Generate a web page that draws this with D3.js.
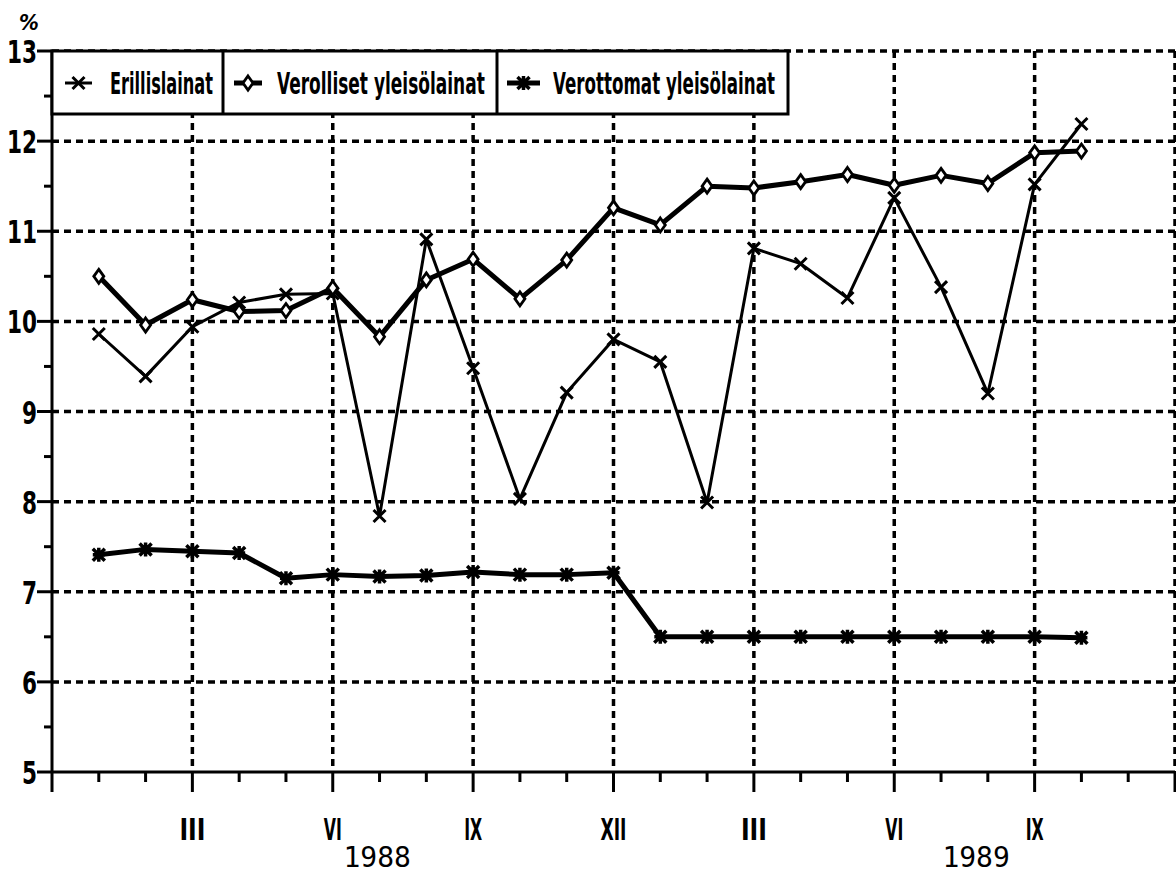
<!DOCTYPE html>
<html>
<head>
<meta charset="utf-8">
<script src="https://cdn.jsdelivr.net/npm/d3@7"></script>
<style>
  body { margin: 0; background: #fff; }
  svg { display: block; }
  .lbl { font-family: "Liberation Sans Narrow", "DejaVu Sans Condensed", "Liberation Sans", sans-serif; font-weight: bold; fill: #000; }
  .year { font-family: "DejaVu Sans Mono", "Liberation Mono", monospace; fill: #000; }
</style>
</head>
<body>
<div id="chart"></div>
<script>
// kuukaudet 1 = I/1988 ... 22 = X/1989
const months = [1, 2, 3, 4, 5, 6, 7, 8, 9, 10, 11, 12, 13, 14, 15, 16, 17, 18, 19, 20, 21, 22];
const erillislainat = [9.86, 9.39, 9.94, 10.21, 10.30, 10.31, 7.84, 10.91, 9.48, 8.03, 9.21, 9.80,
                       9.55, 7.99, 10.81, 10.64, 10.26, 11.37, 10.38, 9.20, 11.52, 12.19];
const verolliset = [10.50, 9.96, 10.24, 10.11, 10.12, 10.37, 9.83, 10.46, 10.69, 10.25, 10.68, 11.26,
                    11.07, 11.50, 11.48, 11.55, 11.63, 11.51, 11.62, 11.53, 11.87, 11.89];
const verottomat = [7.41, 7.47, 7.45, 7.43, 7.15, 7.19, 7.17, 7.18, 7.22, 7.19, 7.19, 7.21,
                    6.50, 6.50, 6.50, 6.50, 6.50, 6.50, 6.50, 6.50, 6.50, 6.49];
const seriesNames = ["Erillislainat", "Verolliset yleisölainat", "Verottomat yleisölainat"];
const quarterMonths = [3, 6, 9, 12, 15, 18, 21, 24];
const quarterLabels = ["III", "VI", "IX", "XII", "III", "VI", "IX", ""];
const yearLabels = [{ text: "1988", m: 6.95 }, { text: "1989", m: 19.75 }];
const yTicks = [5, 6, 7, 8, 9, 10, 11, 12, 13];

const width = 1176, height = 876;
const svg = d3.select("#chart").append("svg")
    .attr("width", width)
    .attr("height", height);

const x = d3.scaleLinear().domain([0, 24]).range([52, 1175]);
const y = d3.scaleLinear().domain([5, 13]).range([772, 51]);

// ruudukko
const grid = svg.append("g").attr("stroke", "#000").attr("stroke-width", 3.5)
    .attr("stroke-dasharray", "7,5").attr("fill", "none");
grid.selectAll(".hg").data(yTicks.filter(d => d > 5)).enter()
    .append("line")
    .attr("x1", x(0)).attr("x2", x(24))
    .attr("y1", d => y(d)).attr("y2", d => y(d));
grid.selectAll(".vg").data(quarterMonths).enter()
    .append("line")
    .attr("x1", d => x(d)).attr("x2", d => x(d))
    .attr("y1", y(13)).attr("y2", y(5));

// akselit
const axes = svg.append("g").attr("stroke", "#000").attr("stroke-width", 3);
axes.append("line").attr("x1", x(0)).attr("x2", x(0)).attr("y1", y(13)).attr("y2", y(5) + 20);
axes.append("line").attr("x1", x(0)).attr("x2", x(24)).attr("y1", y(5)).attr("y2", y(5));

// y-akselin merkit
axes.selectAll(".ymaj").data(yTicks).enter()
    .append("line")
    .attr("x1", x(0) - 15).attr("x2", x(0))
    .attr("y1", d => y(d)).attr("y2", d => y(d));
axes.selectAll(".ymin").data(d3.range(5.5, 13, 1)).enter()
    .append("line")
    .attr("x1", x(0) - 8).attr("x2", x(0))
    .attr("y1", d => y(d)).attr("y2", d => y(d));

// x-akselin merkit
axes.selectAll(".xt").data(d3.range(1, 25)).enter()
    .append("line")
    .attr("x1", d => x(d)).attr("x2", d => x(d))
    .attr("y1", y(5))
    .attr("y2", d => y(5) + (d % 3 === 0 ? 20 : 10));

svg.selectAll(".ylab").data(yTicks).enter()
    .append("text")
    .attr("class", "lbl")
    .attr("x", 37).attr("y", d => y(d) + 12)
    .attr("text-anchor", "end")
    .attr("font-size", 32)
    .attr("textLength", d => String(d).length * 15)
    .attr("lengthAdjust", "spacingAndGlyphs")
    .text(d => d);

svg.append("text").attr("class", "lbl")
    .attr("x", 19).attr("y", 30)
    .attr("font-size", 22)
    .attr("font-style", "italic")
    .text("%");

svg.selectAll(".xlab").data(quarterMonths).enter()
    .append("text")
    .attr("class", "lbl")
    .attr("x", d => x(d)).attr("y", 840)
    .attr("text-anchor", "middle")
    .attr("font-size", 31)
    .attr("textLength", (d, i) => quarterLabels[i].length * 8 + 2)
    .attr("lengthAdjust", "spacingAndGlyphs")
    .text((d, i) => quarterLabels[i]);

svg.selectAll(".year").data(yearLabels).enter()
    .append("text")
    .attr("class", "year")
    .attr("x", d => x(d.m)).attr("y", 867)
    .attr("text-anchor", "middle")
    .attr("font-size", 28)
    .text(d => d.text);

// merkit
function markX(g, s) {
    g.append("path").attr("d", `M${-s},${-s}L${s},${s}M${-s},${s}L${s},${-s}`)
        .attr("stroke", "#000").attr("stroke-width", 3).attr("fill", "none");
}
function markDiamond(g) {
    g.append("path").attr("d", "M0,-7L5,0L0,7L-5,0Z")
        .attr("stroke", "#000").attr("stroke-width", 2.8).attr("fill", "#fff");
}
function markStar(g) {
    g.append("path").attr("d", "M-6,-6L6,6M-6,6L6,-6M-6,0L6,0M0,-7L0,7")
        .attr("stroke", "#000").attr("stroke-width", 3.5).attr("fill", "none");
}

const series = [
    { values: erillislainat, width: 3, mark: g => markX(g, 6) },
    { values: verolliset, width: 5, mark: markDiamond },
    { values: verottomat, width: 5, mark: markStar }
];

const line = d3.line().x(d => x(d[0])).y(d => y(d[1]));

series.forEach(s => {
    const pts = months.map((m, i) => [m, s.values[i]]);
    svg.append("path")
        .datum(pts)
        .attr("d", line)
        .attr("fill", "none")
        .attr("stroke", "#000")
        .attr("stroke-width", s.width)
        .attr("stroke-linejoin", "round");
    svg.append("g").selectAll("g").data(pts).enter()
        .append("g")
        .attr("transform", d => `translate(${x(d[0])},${y(d[1])})`)
        .each(function () { s.mark(d3.select(this)); });
});

// selite
const legendCells = [
    { x0: 52, x1: 223, lx0: 65, lx1: 92, tx: 110, tw: 103 },
    { x0: 223, x1: 497, lx0: 234, lx1: 262, tx: 277, tw: 208 },
    { x0: 497, x1: 788, lx0: 507, lx1: 540, tx: 553, tw: 222 }
];
const lg = svg.append("g");
lg.append("rect")
    .attr("x", 52).attr("y", 51).attr("width", 788 - 52).attr("height", 114 - 51)
    .attr("fill", "#fff").attr("stroke", "#000").attr("stroke-width", 3);
legendCells.forEach((c, i) => {
    if (i > 0) {
        lg.append("line").attr("x1", c.x0).attr("x2", c.x0).attr("y1", 51).attr("y2", 114)
            .attr("stroke", "#000").attr("stroke-width", 3);
    }
    lg.append("line").attr("x1", c.lx0).attr("x2", c.lx1).attr("y1", 83).attr("y2", 83)
        .attr("stroke", "#000").attr("stroke-width", i === 0 ? 3 : 5);
    const mg = lg.append("g").attr("transform", `translate(${(c.lx0 + c.lx1) / 2},83)`);
    series[i].mark(mg);
    // kavennetaan teksti skaalaamalla vaakasuunnassa
    const t = lg.append("text").attr("class", "lbl")
        .attr("x", 0).attr("y", 0)
        .attr("font-size", 31)
        .text(seriesNames[i]);
    const natural = t.node().getComputedTextLength();
    t.attr("transform", `translate(${c.tx},94) scale(${c.tw / natural},1)`);
});
</script>
</body>
</html>
